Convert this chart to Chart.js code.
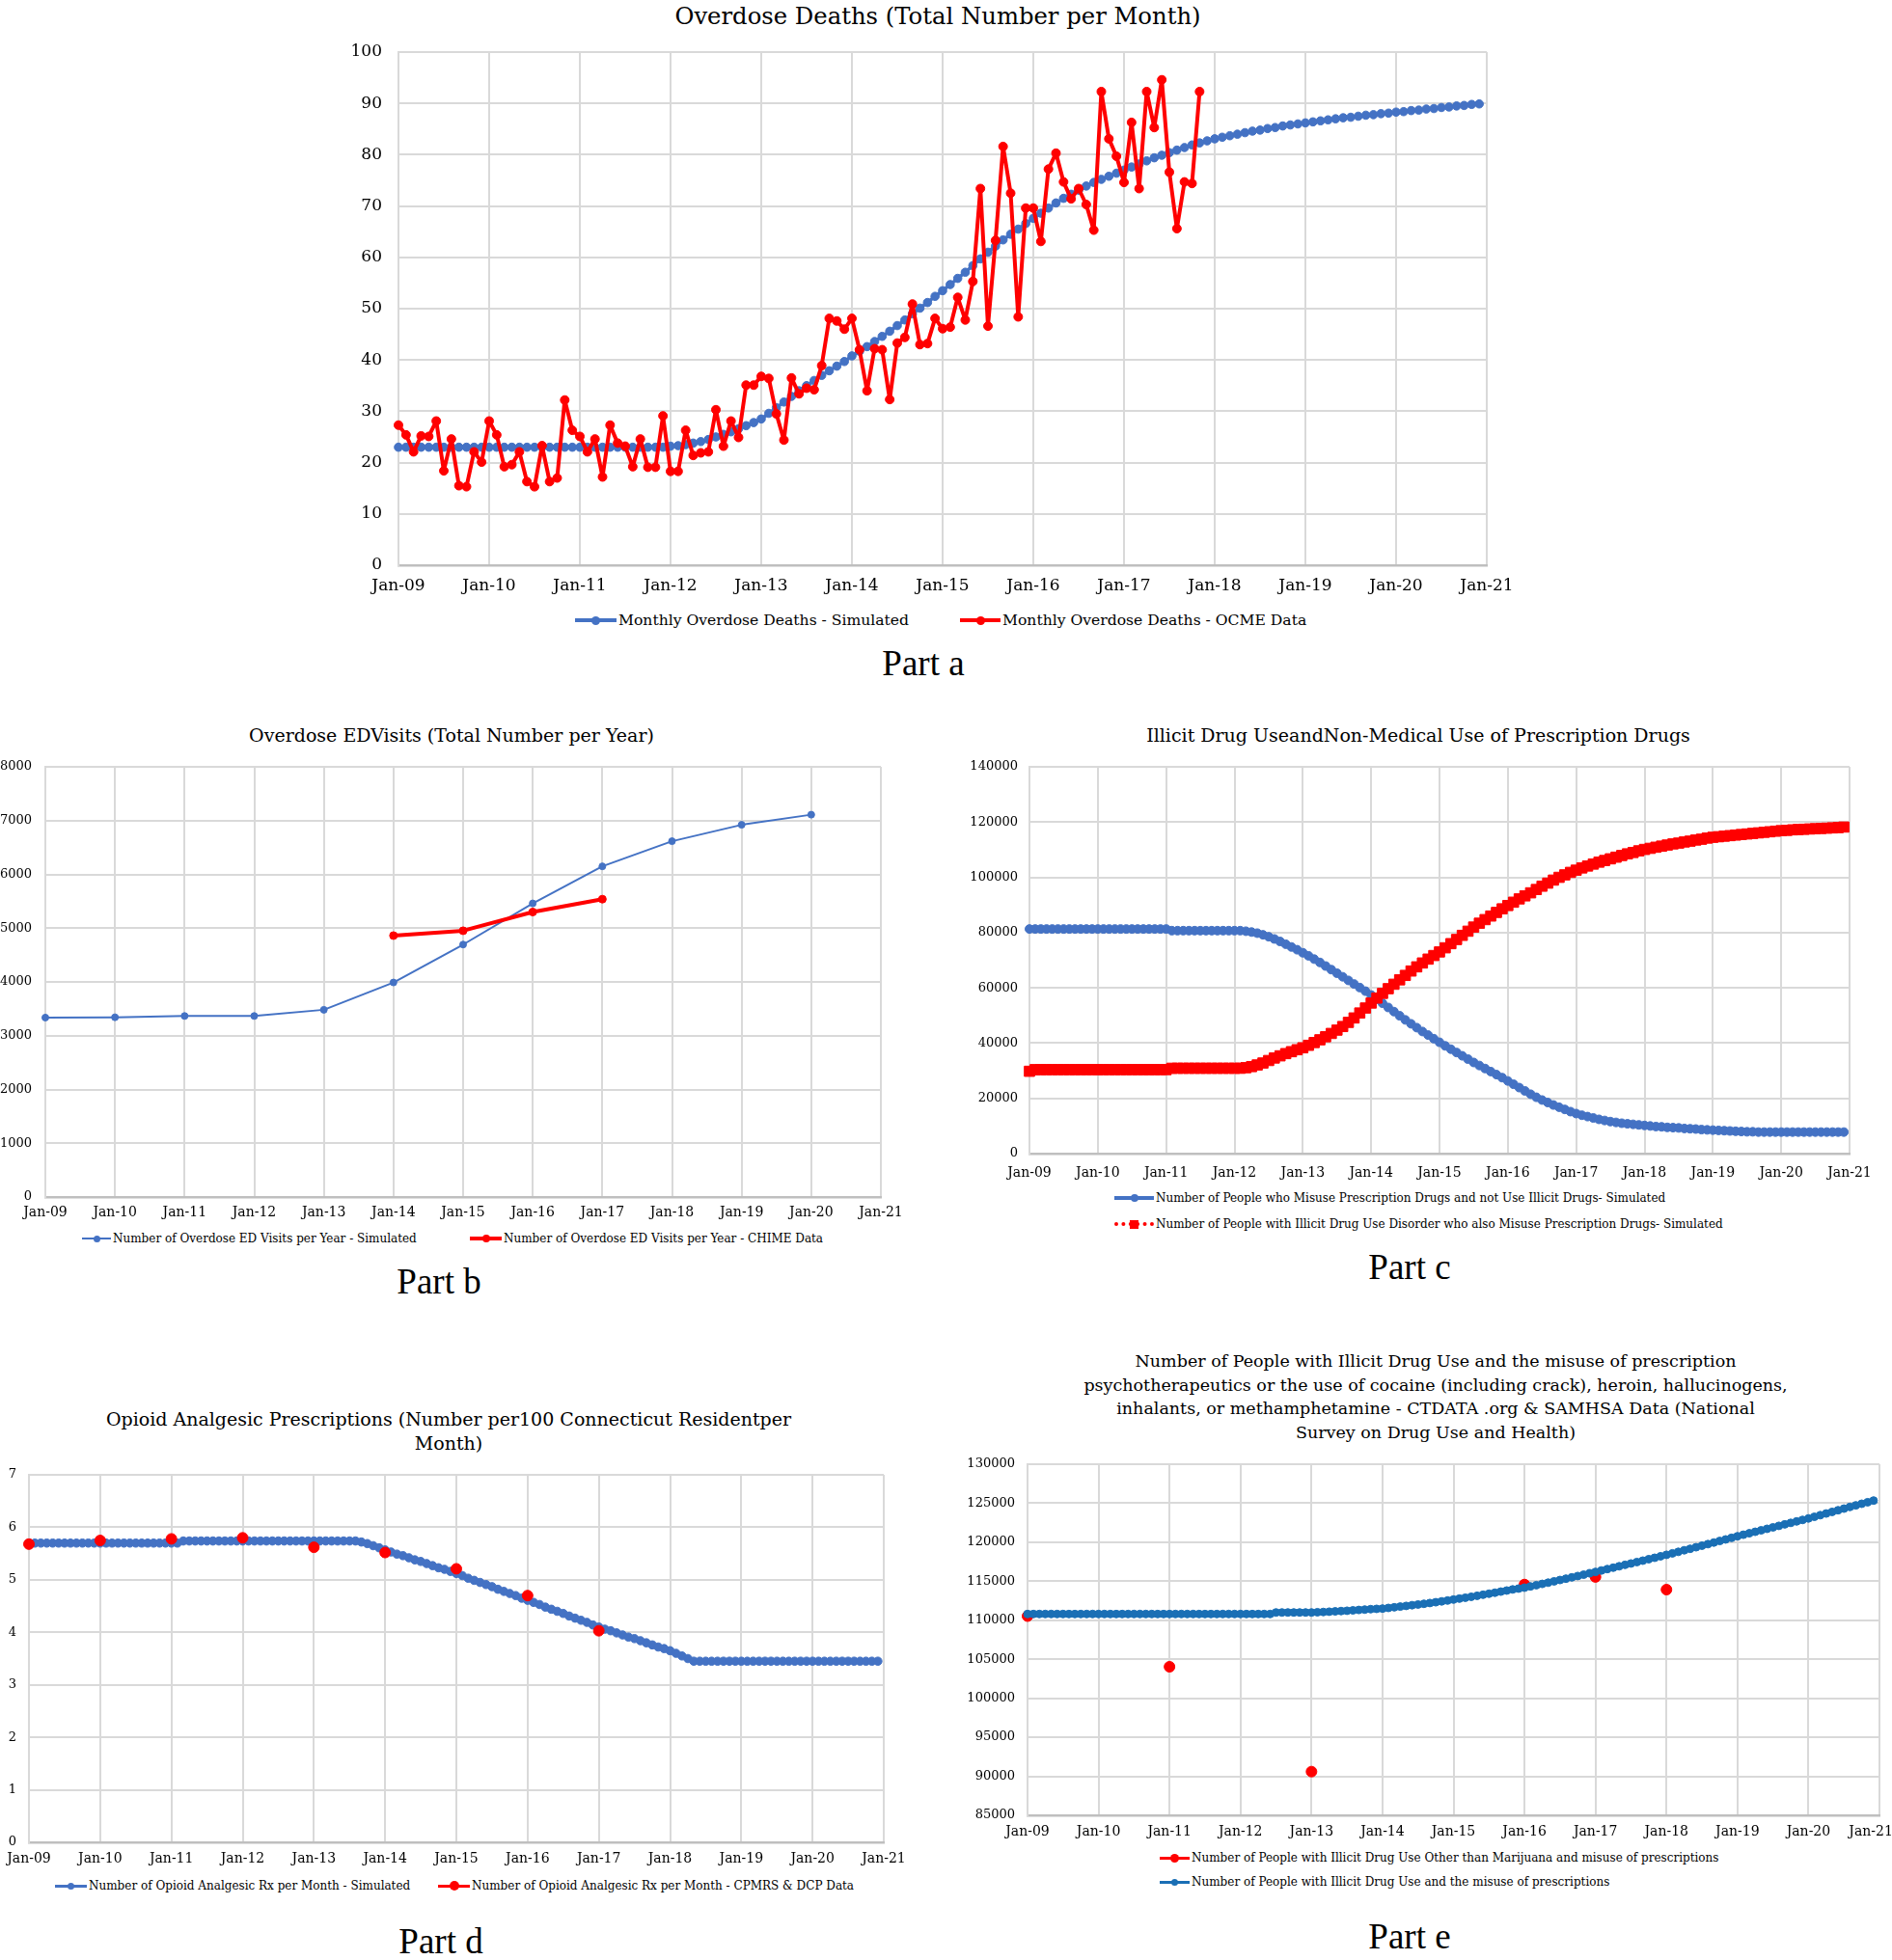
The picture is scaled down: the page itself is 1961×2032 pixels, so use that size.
<!DOCTYPE html>
<html>
<head>
<meta charset="utf-8">
<script src="https://cdn.jsdelivr.net/npm/chart.js@4.4.1/dist/chart.umd.min.js"></script>
<style>
  html, body { margin:0; padding:0; background:#fff; }
  body { position:relative; width:1961px; height:2032px; overflow:hidden; font-family:'DejaVu Serif', serif; color:#000; }
  canvas { position:absolute; }
  .ttl { position:absolute; transform:translate(-50%,-50%); white-space:nowrap; text-align:center; font-family:'DejaVu Serif', serif; color:#000; }
  .part { position:absolute; transform:translate(-50%,-50%); white-space:nowrap; font-family:'Liberation Serif', 'Times New Roman', serif; font-size:37px; color:#000; }
  .leg { position:absolute; transform:translateY(-50%); display:flex; align-items:center; white-space:nowrap; font-family:'DejaVu Serif', serif; color:#000; }
  .sym { position:relative; display:inline-block; height:14px; margin-right:2px; flex:none; }
  .ln { position:absolute; left:0; right:0; top:50%; }
  .mk { position:absolute; left:50%; top:50%; }
</style>
</head>
<body>
<canvas id="chartA" style="left:330px; top:38px;" width="1251" height="583"></canvas>
<canvas id="chartB" style="left:0px; top:781px;" width="948" height="490"></canvas>
<canvas id="chartC" style="left:990px; top:781px;" width="971" height="445"></canvas>
<canvas id="chartD" style="left:0px; top:1515px;" width="950" height="425"></canvas>
<canvas id="chartE" style="left:990px; top:1504px;" width="1000" height="408"></canvas>

<div class="ttl" style="left:972px; top:16px; font-size:24.3px;">Overdose Deaths (Total Number per Month)</div>
<div class="ttl" style="left:468px; top:762px; font-size:19px;">Overdose EDVisits (Total Number per Year)</div>
<div class="ttl" style="left:1470px; top:762px; font-size:19px;">Illicit Drug UseandNon-Medical Use of Prescription Drugs</div>
<div class="ttl" style="left:465px; top:1484px; font-size:19px; line-height:25px;">Opioid Analgesic Prescriptions (Number per100 Connecticut Residentper<br>Month)</div>
<div class="ttl" style="left:1488px; top:1448px; font-size:17.5px; line-height:24.6px;">Number of People with Illicit Drug Use and the misuse of prescription<br>psychotherapeutics or the use of cocaine (including crack), heroin, hallucinogens,<br>inhalants, or methamphetamine - CTDATA .org &amp; SAMHSA Data (National<br>Survey on Drug Use and Health)</div>

<div class="leg" style="left:596px; top:643px; font-size:15.6px;"><span class="sym" style="width:43px;"><span class="ln" style="height:4px; margin-top:-2px; background:#4472C4;"></span><span class="mk" style="width:9px; height:9px; margin:-4.5px; border-radius:50%; background:#4472C4;"></span></span>Monthly Overdose Deaths - Simulated</div>
<div class="leg" style="left:995px; top:643px; font-size:15.6px;"><span class="sym" style="width:42px;"><span class="ln" style="height:4px; margin-top:-2px; background:#FF0000;"></span><span class="mk" style="width:9px; height:9px; margin:-4.5px; border-radius:50%; background:#FF0000;"></span></span>Monthly Overdose Deaths - OCME Data</div>

<div class="leg" style="left:85px; top:1284px; font-size:12px;"><span class="sym" style="width:30px;"><span class="ln" style="height:2px; margin-top:-1px; background:#4472C4;"></span><span class="mk" style="width:7px; height:7px; margin:-3.5px; border-radius:50%; background:#4472C4;"></span></span>Number of Overdose ED Visits per Year - Simulated</div>
<div class="leg" style="left:487px; top:1284px; font-size:12px;"><span class="sym" style="width:33px;"><span class="ln" style="height:4px; margin-top:-2px; background:#FF0000;"></span><span class="mk" style="width:8px; height:8px; margin:-4px; border-radius:50%; background:#FF0000;"></span></span>Number of Overdose ED Visits per Year - CHIME Data</div>

<div class="leg" style="left:1155px; top:1242px; font-size:12px;"><span class="sym" style="width:41px;"><span class="ln" style="height:4px; margin-top:-2px; background:#4472C4;"></span><span class="mk" style="width:8px; height:8px; margin:-4px; border-radius:50%; background:#4472C4;"></span></span>Number of People who Misuse Prescription Drugs and not Use Illicit Drugs- Simulated</div>
<div class="leg" style="left:1155px; top:1269px; font-size:12px;"><span class="sym" style="width:41px;"><span class="ln" style="height:0; margin-top:-2px; border-top:4px dotted #FF0000;"></span><span class="mk" style="width:9px; height:9px; margin:-4.5px; background:#FF0000;"></span></span>Number of People with Illicit Drug Use Disorder who also Misuse Prescription Drugs- Simulated</div>

<div class="leg" style="left:57px; top:1955px; font-size:12px;"><span class="sym" style="width:33px;"><span class="ln" style="height:3px; margin-top:-1.5px; background:#4472C4;"></span><span class="mk" style="width:7px; height:7px; margin:-3.5px; border-radius:50%; background:#4472C4;"></span></span>Number of Opioid Analgesic Rx per Month - Simulated</div>
<div class="leg" style="left:454px; top:1955px; font-size:12px;"><span class="sym" style="width:33px;"><span class="ln" style="height:3px; margin-top:-1.5px; background:#FF0000;"></span><span class="mk" style="width:10px; height:10px; margin:-5px; border-radius:50%; background:#FF0000;"></span></span>Number of Opioid Analgesic Rx per Month - CPMRS &amp; DCP Data</div>

<div class="leg" style="left:1202px; top:1926px; font-size:12px;"><span class="sym" style="width:31px;"><span class="ln" style="height:3px; margin-top:-1.5px; background:#FF0000;"></span><span class="mk" style="width:9px; height:9px; margin:-4.5px; border-radius:50%; background:#FF0000;"></span></span>Number of People with Illicit Drug Use Other than Marijuana and misuse of prescriptions</div>
<div class="leg" style="left:1202px; top:1951px; font-size:12px;"><span class="sym" style="width:31px;"><span class="ln" style="height:3px; margin-top:-1.5px; background:#1A6FB5;"></span><span class="mk" style="width:7px; height:7px; margin:-3.5px; border-radius:50%; background:#1A6FB5;"></span></span>Number of People with Illicit Drug Use and the misuse of prescriptions</div>

<div class="part" style="left:957px; top:687px;">Part a</div>
<div class="part" style="left:455px; top:1328px;">Part b</div>
<div class="part" style="left:1461px; top:1313px;">Part c</div>
<div class="part" style="left:457px; top:2012px;">Part d</div>
<div class="part" style="left:1461px; top:2007px;">Part e</div>

<script>
// ---------- tick labels (x axis, every 12 months from Jan-09) ----------
const monthTickLabels = ['Jan-09','Jan-10','Jan-11','Jan-12','Jan-13','Jan-14','Jan-15','Jan-16','Jan-17','Jan-18','Jan-19','Jan-20','Jan-21'];

// ---------- Part a: monthly overdose deaths ----------
const aSimulated = [
  23,23,23,23,23,23,23,23,23,23,23,23,
  23,23,23,23,23,23,23,23,23,23,23,23,
  23,23,23,23,23,23,23,23,23,23,23,23,
  23.2,23.3,23.5,23.8,24.1,24.5,25.0,25.5,26.0,26.6,27.2,27.8,
  28.5,29.6,30.7,31.8,32.9,34.0,35.0,36.0,37.0,37.9,38.8,39.7,
  40.8,41.7,42.6,43.6,44.6,45.6,46.7,47.8,49.0,50.1,51.2,52.4,
  53.5,54.7,55.9,57.1,58.4,59.7,61.0,62.2,63.4,64.5,65.5,66.6,
  67.6,68.6,69.6,70.6,71.5,72.3,73.1,73.9,74.6,75.2,75.8,76.4,
  77.0,77.6,78.2,78.8,79.4,79.9,80.4,80.9,81.4,81.9,82.3,82.7,
  83.1,83.4,83.7,84.0,84.3,84.6,84.8,85.1,85.3,85.6,85.8,86.0,
  86.2,86.4,86.6,86.8,87.0,87.2,87.3,87.5,87.7,87.8,88.0,88.1,
  88.3,88.4,88.6,88.7,88.9,89.0,89.2,89.3,89.5,89.6,89.8,89.9
];
const aOCME = [
  27.3,25.4,22.1,25.2,25.1,28.1,18.4,24.6,15.5,15.3,22.1,20.1,
  28.1,25.4,19.2,19.6,22.1,16.3,15.3,23.3,16.3,17.0,32.2,26.3,
  25.1,22.1,24.6,17.2,27.3,23.8,23.2,19.2,24.6,19.1,19.1,29.1,
  18.3,18.3,26.3,21.4,21.9,22.1,30.3,23.2,28.1,24.9,35.1,35.1,
  36.8,36.4,29.5,24.4,36.5,33.4,34.5,34.2,38.9,48.1,47.6,46.0,
  48.1,42.0,34.0,42.2,42.0,32.3,43.3,44.4,50.9,43.0,43.2,48.1,
  46.1,46.4,52.2,47.8,55.3,73.4,46.6,63.3,81.6,72.5,48.4,69.6,
  69.6,63.1,77.2,80.3,74.7,71.4,73.4,70.3,65.3,92.3,83.1,79.7,
  74.6,86.3,73.4,92.3,85.3,94.6,76.6,65.6,74.7,74.4,92.3
];

// ---------- Part b: yearly overdose ED visits ----------
const bSimMonth = [0,12,24,36,48,60,72,84,96,108,120,132];
const bSimulated = [3337,3343,3367,3367,3482,3990,4695,5461,6150,6617,6922,7110];
const bChimeMonth = [60,72,84,96];
const bChime = [4862,4952,5300,5539];

// ---------- Part c: prescription misuse / illicit drug use (simulated, monthly) ----------
const cMisuseOnly = [
  81300,81300,81300,81300,81300,81300,81300,81300,81300,81300,81300,81300,
  81300,81300,81300,81300,81300,81300,81300,81300,81300,81300,81300,81300,
  81300,80700,80700,80700,80700,80700,80700,80700,80700,80700,80700,80700,
  80700,80700,80500,80200,79800,79200,78500,77700,76800,75800,74800,73800,
  72700,71600,70400,69200,67900,66600,65300,64000,62700,61400,60100,58800,
  57400,55900,54400,52900,51400,49900,48400,47000,45600,44200,42900,41600,
  40300,39000,37800,36600,35400,34200,33000,31900,30800,29700,28600,27500,
  26300,25100,23900,22700,21500,20400,19400,18500,17600,16800,16000,15200,
  14500,13900,13400,12900,12400,12000,11600,11300,11000,10800,10600,10400,
  10200,10000,9800,9700,9500,9400,9300,9100,9000,8900,8700,8600,
  8500,8400,8300,8200,8100,8000,7900,7900,7800,7800,7800,7800,
  7800,7800,7800,7800,7800,7800,7800,7800,7800,7800,7800,7800
];
const cIllicitAndMisuse = [
  29800,30400,30400,30400,30400,30400,30400,30400,30400,30400,30400,30400,
  30400,30400,30400,30400,30400,30400,30400,30400,30400,30400,30400,30400,
  30400,30900,30900,30900,30900,30900,30900,30900,30900,30900,30900,30900,
  30900,30900,31100,31500,32100,32800,33700,34600,35400,36200,36900,37600,
  38300,39200,40200,41200,42300,43500,44700,46000,47500,49100,50900,52700,
  54500,56300,58000,59700,61300,62900,64500,66100,67600,69000,70400,71700,
  73000,74500,76000,77500,79000,80500,82000,83400,84700,86000,87300,88600,
  89800,91000,92200,93300,94400,95600,96800,97900,99000,100000,100900,101800,
  102600,103400,104100,104800,105500,106100,106700,107300,107900,108500,109000,109600,
  110100,110500,110900,111300,111700,112100,112400,112800,113100,113500,113800,114200,
  114500,114700,114900,115100,115300,115500,115700,115900,116100,116300,116500,116700,
  116900,117000,117200,117300,117400,117500,117600,117700,117800,117900,118000,118200
];

// ---------- Part d: opioid analgesic prescriptions ----------
const dSimulated = [
  5.70,5.70,5.70,5.70,5.70,5.70,5.70,5.70,5.70,5.70,5.70,5.70,
  5.70,5.70,5.70,5.70,5.70,5.70,5.70,5.70,5.70,5.70,5.70,5.70,
  5.70,5.70,5.74,5.74,5.74,5.74,5.74,5.74,5.74,5.74,5.74,5.74,
  5.74,5.74,5.74,5.74,5.74,5.74,5.74,5.74,5.74,5.74,5.74,5.74,
  5.74,5.74,5.74,5.74,5.74,5.74,5.74,5.74,5.72,5.69,5.65,5.61,
  5.57,5.53,5.49,5.46,5.42,5.38,5.35,5.31,5.27,5.23,5.20,5.16,
  5.12,5.08,5.03,4.99,4.95,4.91,4.87,4.82,4.78,4.74,4.70,4.65,
  4.61,4.57,4.53,4.48,4.44,4.40,4.36,4.31,4.27,4.23,4.19,4.14,
  4.10,4.06,4.03,3.99,3.95,3.91,3.88,3.84,3.80,3.76,3.72,3.69,
  3.65,3.60,3.55,3.50,3.45,3.45,3.45,3.45,3.45,3.45,3.45,3.45,
  3.45,3.45,3.45,3.45,3.45,3.45,3.45,3.45,3.45,3.45,3.45,3.45,
  3.45,3.45,3.45,3.45,3.45,3.45,3.45,3.45,3.45,3.45,3.45,3.45
];
const dDataMonth = [0,12,24,36,48,60,72,84,96];
const dData = [5.68,5.75,5.78,5.80,5.62,5.52,5.21,4.70,4.03];

// ---------- Part e: illicit drug use and misuse of prescriptions ----------
const eSimulated = [
  110800,110800,110800,110800,110800,110800,110800,110800,110800,110800,110800,110800,
  110800,110800,110800,110800,110800,110800,110800,110800,110800,110800,110800,110800,
  110800,110800,110800,110800,110800,110800,110800,110800,110800,110800,110800,110800,
  110800,110800,110800,110800,110800,110800,111000,111000,111000,111000,111000,111000,
  111000,111030,111060,111100,111140,111180,111220,111270,111320,111370,111420,111460,
  111500,111580,111660,111750,111840,111930,112020,112110,112210,112310,112420,112530,
  112650,112770,112890,113010,113140,113270,113400,113530,113670,113810,113950,114060,
  114180,114340,114500,114660,114820,114990,115160,115330,115500,115670,115840,116020,
  116200,116380,116560,116740,116920,117100,117280,117460,117640,117830,118010,118200,
  118390,118580,118770,118970,119160,119360,119560,119760,119960,120160,120360,120560,
  120770,120960,121150,121340,121530,121720,121910,122100,122290,122480,122670,122860,
  123050,123260,123470,123680,123890,124100,124310,124520,124730,124930,125130,125340
];
const eDataMonth = [0,24,48,84,96,108];
const eData = [110530,104040,90600,114580,115550,113930];

// ---------- helpers ----------
const BLUE = '#4472C4', RED = '#FF0000', BLUE_E = '#1A6FB5';
function pts(values, months) { return values.map((v, i) => ({ x: months ? months[i] : i, y: v })); }

function scales(o) {
  return {
    x: {
      type: 'linear', min: 0, max: 144,
      ticks: { stepSize: 12, autoSkip: false, maxRotation: 0, padding: o.xPad, color: '#000',
               font: { family: 'DejaVu Serif', size: o.xFont },
               callback: (v) => {
                 const i = Math.round(v / 12);
                 const t = monthTickLabels[i];
                 return (o.lastShift && i === monthTickLabels.length - 1) ? t + o.lastShift : t;
               } },
      grid: { color: '#d9d9d9', lineWidth: 2, drawTicks: false },
      border: { display: true, color: '#bfbfbf', width: 2.5 },
      afterFit: (s) => { s.height = o.xH; s.paddingLeft = 0; s.paddingRight = 0; }
    },
    y: {
      min: o.yMin, max: o.yMax,
      ticks: { stepSize: o.yStep, padding: o.yPad, color: '#000',
               font: { family: 'DejaVu Serif', size: o.yFont },
               callback: (v) => String(v) },
      grid: { color: '#d9d9d9', lineWidth: 2, drawTicks: false },
      border: { display: true, color: '#d9d9d9', width: 2 },
      afterFit: (s) => { s.width = o.yW; s.paddingTop = 0; s.paddingBottom = 0; }
    }
  };
}

function make(id, datasets, o) {
  return new Chart(document.getElementById(id), {
    type: 'line',
    data: { datasets },
    options: {
      responsive: false, animation: false, devicePixelRatio: 1,
      layout: { padding: { top: o.padTop, right: o.padRight, left: 0, bottom: 0 } },
      plugins: { legend: { display: false }, tooltip: { enabled: false }, title: { display: false } },
      elements: { line: { tension: 0, borderJoinStyle: 'round', borderCapStyle: 'round' } },
      scales: scales(o)
    }
  });
}

function ds(label, data, color, opt) {
  return Object.assign({
    label, data, borderColor: color, backgroundColor: color,
    pointBackgroundColor: color, pointBorderColor: color, pointBorderWidth: 1,
    pointStyle: 'circle', clip: false, fill: false,
    borderJoinStyle: 'round', borderCapStyle: 'round'
  }, opt);
}

// Part a
make('chartA', [
  ds('Monthly Overdose Deaths - OCME Data', pts(aOCME), RED, { borderWidth: 4, pointRadius: 4.5, order: 0 }),
  ds('Monthly Overdose Deaths - Simulated', pts(aSimulated), BLUE, { borderWidth: 3.5, pointRadius: 4.3, order: 1 })
], { padTop: 16, padRight: 40, yW: 83, xH: 35, yMin: 0, yMax: 100, yStep: 10, yPad: 17, xPad: 11, xFont: 17, yFont: 17 });

// Part b
make('chartB', [
  ds('Number of Overdose ED Visits per Year - CHIME Data', pts(bChime, bChimeMonth), RED, { borderWidth: 4, pointRadius: 4, order: 0 }),
  ds('Number of Overdose ED Visits per Year - Simulated', pts(bSimulated, bSimMonth), BLUE, { borderWidth: 2, pointRadius: 3.5, order: 1 })
], { padTop: 14, padRight: 35, yW: 47, xH: 30, yMin: 0, yMax: 8000, yStep: 1000, yPad: 14, xPad: 8, xFont: 14, yFont: 13 });

// Part c
make('chartC', [
  ds('Number of People with Illicit Drug Use Disorder who also Misuse Prescription Drugs- Simulated', pts(cIllicitAndMisuse), RED,
     { borderWidth: 3, borderDash: [2, 2], pointRadius: 7.5, pointStyle: 'rect', order: 0 }),
  ds('Number of People who Misuse Prescription Drugs and not Use Illicit Drugs- Simulated', pts(cMisuseOnly), BLUE,
     { borderWidth: 3.5, pointRadius: 4.5, order: 1 })
], { padTop: 14, padRight: 44, yW: 77, xH: 30, yMin: 0, yMax: 140000, yStep: 20000, yPad: 12, xPad: 12, xFont: 14, yFont: 13 });

// Part d
make('chartD', [
  ds('Number of Opioid Analgesic Rx per Month - CPMRS & DCP Data', pts(dData, dDataMonth), RED, { showLine: false, pointRadius: 5.5, order: 0 }),
  ds('Number of Opioid Analgesic Rx per Month - Simulated', pts(dSimulated), BLUE, { borderWidth: 3.5, pointRadius: 4.3, order: 1 })
], { padTop: 14, padRight: 34, yW: 30, xH: 30, yMin: 0, yMax: 7, yStep: 1, yPad: 13, xPad: 9, xFont: 14, yFont: 13 });

// Part e
make('chartE', [
  ds('Number of People with Illicit Drug Use and the misuse of prescriptions', pts(eSimulated), BLUE_E, { borderWidth: 3.5, pointRadius: 4, order: 0 }),
  ds('Number of People with Illicit Drug Use Other than Marijuana and misuse of prescriptions', pts(eData, eDataMonth), RED, { showLine: false, pointRadius: 5.5, order: 1 })
], { padTop: 14, padRight: 42, yW: 75, xH: 30, yMin: 85000, yMax: 130000, yStep: 5000, yPad: 13, xPad: 9, xFont: 14, yFont: 13, lastShift: '    ' });
</script>
</body>
</html>
